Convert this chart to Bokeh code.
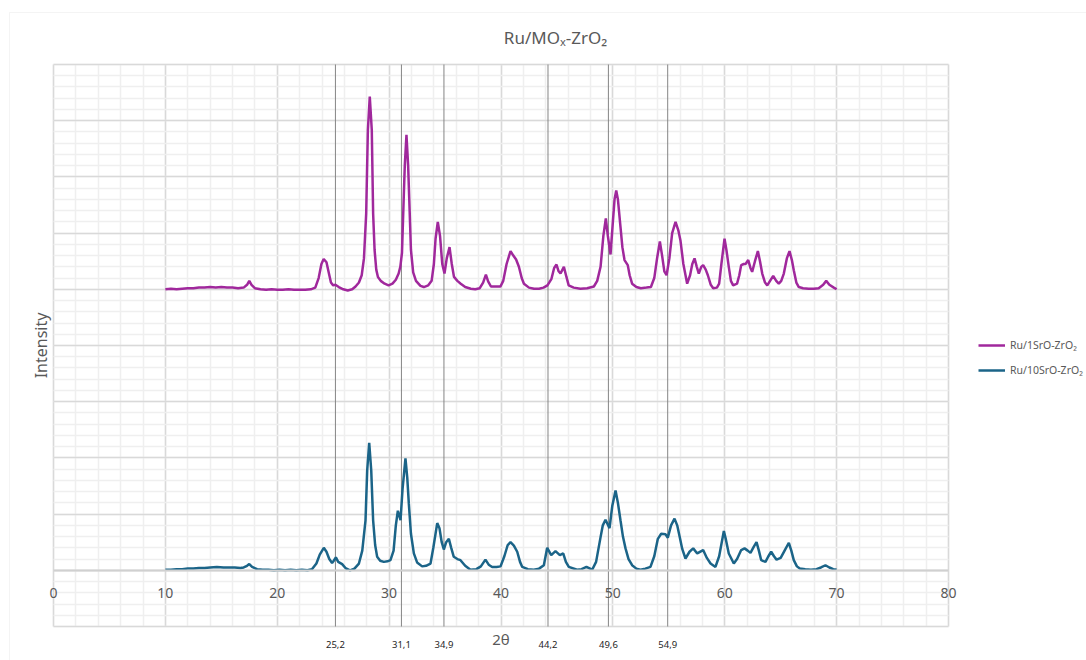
import math
from bokeh.plotting import figure
from bokeh.models import (Range1d, FixedTicker, LinearAxis, Legend, LegendItem,
                          Label, BoxAnnotation)
from bokeh.embed import file_html
from bokeh.resources import INLINE

# ---- data -------------------------------------------------------------
# Ru/1SrO-ZrO2 (plotted with a vertical offset)
tt_1sr = [10.0, 10.5, 11.0, 11.5, 12.0, 12.5, 13.0, 13.5, 14.0, 14.5, 15.0, 15.5, 16.0,
          16.5, 17.0, 17.3, 17.5, 17.7, 18.0, 18.5, 19.0, 19.5, 20.0, 20.5, 21.0, 21.5,
          22.0, 22.5, 23.0, 23.4, 23.7, 23.95, 24.15, 24.4, 24.6, 24.8, 25.0, 25.2, 25.5,
          25.9, 26.3, 26.7, 27.0, 27.3, 27.55, 27.75, 27.95, 28.1, 28.27, 28.45, 28.57,
          28.7, 28.85, 29.0, 29.25, 29.6, 29.95, 30.3, 30.6, 30.85, 31.0, 31.15, 31.3,
          31.4, 31.55, 31.7, 31.8, 31.95, 32.15, 32.4, 32.8, 33.1, 33.5, 33.8, 34.0,
          34.15, 34.35, 34.55, 34.75, 34.95, 35.15, 35.4, 35.6, 35.8, 36.1, 36.4, 36.8,
          37.3, 37.7, 38.1, 38.4, 38.65, 38.85, 39.1, 39.5, 39.95, 40.2, 40.5, 40.85,
          41.1, 41.35, 41.6, 41.85, 42.05, 42.5, 42.95, 43.4, 43.8, 44.15, 44.5, 44.75,
          44.96, 45.15, 45.32, 45.62, 45.85, 46.05, 46.5, 47.1, 47.7, 48.3, 48.6, 48.9,
          49.15, 49.37, 49.55, 49.79, 50.0, 50.15, 50.3, 50.45, 50.68, 50.85, 51.04,
          51.33, 51.5, 51.72, 52.1, 52.5, 53.0, 53.4, 53.7, 53.95, 54.2, 54.4, 54.6,
          54.8, 55.05, 55.3, 55.6, 55.85, 56.04, 56.3, 56.64, 56.9, 57.1, 57.3, 57.5,
          57.68, 57.9, 58.07, 58.3, 58.49, 58.75, 58.97, 59.3, 59.5, 59.7, 59.98, 60.15,
          60.36, 60.55, 60.75, 61.1, 61.3, 61.47, 61.7, 61.86, 62.1, 62.3, 62.45, 62.7,
          62.96, 63.15, 63.35, 63.6, 63.8, 64.05, 64.33, 64.6, 64.83, 65.05, 65.28,
          65.55, 65.79, 66.0, 66.17, 66.4, 66.62, 67.0, 67.5, 67.96, 68.4, 68.8, 69.07,
          69.35, 69.75, 70.0]
int_1sr = [5.00, 5.01, 5.00, 5.01, 5.02, 5.02, 5.03, 5.03, 5.04, 5.03, 5.04, 5.03, 5.03,
           5.02, 5.03, 5.08, 5.15, 5.08, 5.02, 5.00, 4.99, 5.00, 4.99, 4.99, 5.00, 4.99,
           4.99, 4.99, 5.00, 5.03, 5.20, 5.45, 5.54, 5.48, 5.30, 5.12, 5.07, 5.08, 5.04,
           5.00, 4.98, 5.00, 5.05, 5.12, 5.25, 5.55, 6.35, 7.83, 8.43, 7.83, 6.35,
           5.70, 5.35, 5.22, 5.15, 5.10, 5.07, 5.10, 5.17, 5.28, 5.40, 5.65, 6.60,
           7.20, 7.75, 7.20, 6.60, 5.70, 5.30, 5.15, 5.06, 5.04, 5.07, 5.15, 5.45,
           5.90, 6.20, 5.95, 5.45, 5.28, 5.55, 5.75, 5.45, 5.22, 5.15, 5.10, 5.04,
           5.01, 5.00, 5.02, 5.12, 5.26, 5.14, 5.05, 5.05, 5.05, 5.15, 5.45, 5.68,
           5.60, 5.53, 5.40, 5.20, 5.10, 5.03, 5.01, 5.01, 5.03, 5.07, 5.18, 5.38,
           5.44, 5.32, 5.28, 5.40, 5.22, 5.07, 5.03, 5.01, 5.02, 5.05, 5.15, 5.40,
           5.95, 6.26, 5.95, 5.62, 6.20, 6.60, 6.76, 6.60, 6.11, 5.75, 5.52,
           5.43, 5.25, 5.10, 5.04, 5.02, 5.03, 5.04, 5.20, 5.55, 5.85, 5.60, 5.32,
           5.25, 5.55, 6.00, 6.20, 6.05, 5.87, 5.45, 5.10, 5.25, 5.45, 5.55, 5.40,
           5.28, 5.40, 5.43, 5.35, 5.25, 5.08, 5.02, 5.03, 5.10, 5.45, 5.90, 5.70,
           5.40, 5.15, 5.07, 5.10, 5.25, 5.43, 5.45, 5.45, 5.52, 5.38, 5.31, 5.50,
           5.68, 5.50, 5.28, 5.12, 5.07, 5.15, 5.24, 5.15, 5.10, 5.15, 5.28,
           5.55, 5.68, 5.52, 5.34, 5.12, 5.04, 5.02, 5.01, 5.01, 5.02, 5.08, 5.15,
           5.08, 5.03, 5.00]

# Ru/10SrO-ZrO2
tt_10sr = [10.0, 10.5, 11.0, 11.5, 12.0, 12.5, 13.0, 13.5, 14.0, 14.6, 15.2, 15.8, 16.2,
           16.7, 17.0, 17.3, 17.5, 17.75, 18.2, 18.7, 19.2, 19.7, 20.2, 20.7, 21.2, 21.7,
           22.2, 22.7, 23.1, 23.5, 23.8, 24.16, 24.4, 24.65, 24.9, 25.05, 25.24, 25.45,
           25.8, 26.1, 26.5, 26.9, 27.3, 27.6, 27.89, 28.04, 28.22, 28.4, 28.57, 28.75,
           28.93, 29.2, 29.53, 29.85, 30.12, 30.4, 30.6, 30.78, 31.02, 31.2, 31.46, 31.62,
           31.76, 31.95, 32.21, 32.5, 32.95, 33.3, 33.7, 33.95, 34.3, 34.5, 34.7, 34.89,
           35.1, 35.34, 35.55, 35.78, 36.1, 36.38, 36.8, 37.27, 37.8, 38.2, 38.61, 38.9,
           39.21, 39.6, 39.96, 40.3, 40.6, 40.85, 41.15, 41.45, 41.7, 41.9, 42.4, 42.93,
           43.4, 43.83, 44.13, 44.49, 44.87, 45.26, 45.56, 45.8, 46.06, 46.8, 47.2, 47.64,
           48.15, 48.5, 48.9, 49.1, 49.34, 49.7, 49.95, 50.24, 50.45, 50.68, 50.9, 51.13,
           51.4, 51.72, 52.1, 52.47, 52.9, 53.36, 53.7, 54.02, 54.32, 54.7, 54.91, 55.2,
           55.51, 55.75, 55.98, 56.2, 56.49, 56.85, 57.18, 57.54, 58.07, 58.4, 58.73,
           59.17, 59.5, 59.92, 60.1, 60.36, 60.81, 61.1, 61.47, 61.77, 62.05, 62.3, 62.6,
           62.84, 63.05, 63.26, 63.64, 63.9, 64.15, 64.4, 64.63, 65.0, 65.35, 65.73, 65.95,
           66.17, 66.45, 66.71, 67.2, 67.7, 68.2, 68.6, 69.0, 69.35, 69.7, 70.0]
int_10sr = [0.01, 0.01, 0.02, 0.02, 0.03, 0.03, 0.04, 0.04, 0.05, 0.06, 0.05, 0.05, 0.05,
            0.04, 0.05, 0.08, 0.11, 0.06, 0.02, 0.01, 0.01, 0.00, 0.01, 0.00, 0.01, 0.00,
            0.01, 0.00, 0.02, 0.12, 0.28, 0.40, 0.33, 0.20, 0.13, 0.17, 0.23, 0.15,
            0.11, 0.04, 0.00, 0.03, 0.12, 0.35, 0.89, 1.78, 2.27, 1.78, 0.89, 0.45,
            0.24, 0.17, 0.15, 0.16, 0.18, 0.35, 0.80, 1.06, 0.89, 1.45, 1.99, 1.65,
            1.19, 0.65, 0.30, 0.14, 0.07, 0.08, 0.12, 0.40, 0.84, 0.75, 0.50, 0.37,
            0.50, 0.56, 0.40, 0.24, 0.20, 0.18, 0.08, 0.01, 0.02, 0.07, 0.19, 0.10,
            0.06, 0.06, 0.07, 0.25, 0.45, 0.50, 0.44, 0.33, 0.15, 0.06, 0.02, 0.01,
            0.03, 0.09, 0.40, 0.27, 0.34, 0.27, 0.30, 0.15, 0.06, 0.01, 0.02, 0.06,
            0.01, 0.15, 0.59, 0.80, 0.90, 0.75, 1.15, 1.42, 1.20, 0.89, 0.60, 0.39,
            0.20, 0.09, 0.03, 0.01, 0.03, 0.06, 0.25, 0.56, 0.65, 0.64, 0.58, 0.80,
            0.92, 0.80, 0.59, 0.38, 0.21, 0.33, 0.39, 0.30, 0.36, 0.22, 0.12,
            0.06, 0.25, 0.70, 0.55, 0.30, 0.12, 0.20, 0.36, 0.39, 0.35, 0.31, 0.42,
            0.50, 0.35, 0.18, 0.15, 0.25, 0.33, 0.25, 0.19, 0.22, 0.35, 0.49, 0.35,
            0.18, 0.07, 0.03, 0.02, 0.01, 0.02, 0.05, 0.09, 0.05, 0.02, 0.01]

# reference reflections and their labels
ref_angles = [25.2, 31.1, 34.9, 44.2, 49.6, 54.9]
ref_labels = ["25,2", "31,1", "34,9", "44,2", "49,6", "54,9"]

x_ticks = [0, 10, 20, 30, 40, 50, 60, 70, 80]
x_tick_labels = ["0", "10", "20", "30", "40", "50", "60", "70", "80"]

series_names = ["Ru/1SrO-ZrO₂", "Ru/10SrO-ZrO₂"]
series_colors = ["#a0289c", "#1b6488"]

TEXT_GREY = "#595959"
FONT = "Noto Sans"

# ---- geometry: the plot area (0..80, -1..9) sits inside a larger canvas ----
W, H = 1086, 660
AREA_L, AREA_R, AREA_T, AREA_B = 53, 948, 64, 626
X0, X1, Y0, Y1 = 0, 80, -1, 9
sx = (AREA_R - AREA_L) / (X1 - X0)
sy = (AREA_B - AREA_T) / (Y1 - Y0)
x_range = Range1d(X0 - AREA_L / sx, X1 + (W - AREA_R) / sx)
y_range = Range1d(Y0 - (H - AREA_B) / sy, Y1 + AREA_T / sy)

p = figure(width=W, height=H, x_range=x_range, y_range=y_range,
           output_backend="svg", toolbar_location=None,
           min_border=0, outline_line_color=None,
           background_fill_color="white", border_fill_color="white")

# outer chart border
p.add_layout(BoxAnnotation(left=9, right=W + 20, top=H - 12, bottom=-20,
                           left_units="screen", right_units="screen",
                           top_units="screen", bottom_units="screen",
                           fill_color=None, line_color="#d9d9d9", line_width=1))

# grid restricted to the plot area
p.xgrid.ticker = FixedTicker(ticks=x_ticks, minor_ticks=list(range(0, 81, 2)))
p.xgrid.bounds = (X0, X1)
p.xgrid.cross_bounds = (Y0, Y1)
p.xgrid.grid_line_color = "#d9d9d9"
p.xgrid.grid_line_width = 1.5
p.xgrid.minor_grid_line_color = "#efefef"
p.xgrid.minor_grid_line_width = 1.5

y_major = list(range(-1, 10))
y_minor = [round(-1 + 0.2 * i, 2) for i in range(51)]
p.ygrid.ticker = FixedTicker(ticks=y_major, minor_ticks=y_minor)
p.ygrid.bounds = (Y0, Y1)
p.ygrid.cross_bounds = (X0, X1)
p.ygrid.grid_line_color = "#d9d9d9"
p.ygrid.grid_line_width = 1.5
p.ygrid.minor_grid_line_color = "#efefef"
p.ygrid.minor_grid_line_width = 1.5

# main x axis crossing at intensity 0
xa = p.xaxis[0]
xa.fixed_location = 0
xa.bounds = (X0, X1)
xa.ticker = FixedTicker(ticks=x_ticks)
xa.major_label_overrides = dict(zip(x_ticks, x_tick_labels))
xa.axis_line_color = "#d0d0d0"
xa.axis_line_width = 2
xa.major_tick_line_color = None
xa.minor_tick_line_color = None
xa.major_label_standoff = 12
xa.major_label_text_font = FONT
xa.major_label_text_font_size = "14px"
xa.major_label_text_color = TEXT_GREY

# the y axis shows nothing; its title is a rotated label centred on the plot area
p.yaxis.visible = False

# reference reflection lines and their positions under the plot area
p.segment(x0=ref_angles, y0=[Y0] * len(ref_angles), x1=ref_angles,
          y1=[Y1] * len(ref_angles), line_color="#858585", line_width=1)

ref_axis = LinearAxis(ticker=FixedTicker(ticks=ref_angles), fixed_location=Y0,
                      major_label_overrides=dict(zip(ref_angles, ref_labels)))
ref_axis.axis_line_color = None
ref_axis.major_tick_line_color = None
ref_axis.minor_tick_line_color = None
ref_axis.major_label_standoff = 8
ref_axis.major_label_text_font = FONT
ref_axis.major_label_text_font_size = "9.5px"
ref_axis.major_label_text_color = "#262626"
p.add_layout(ref_axis, "below")

# chart title, axis titles
p.add_layout(Label(x=555, y=H - 37, x_units="screen", y_units="screen",
                   text="Ru/MOₓ-ZrO₂", text_align="center", text_baseline="middle",
                   text_font=FONT, text_font_size="17px", text_color=TEXT_GREY))
p.add_layout(Label(x=(AREA_L + AREA_R) / 2, y=H - 638, x_units="screen",
                   y_units="screen", text="2θ", text_align="center",
                   text_baseline="middle", text_font=FONT, text_font_size="15px",
                   text_color=TEXT_GREY))
p.add_layout(Label(x=40, y=H - (AREA_T + AREA_B) / 2, x_units="screen",
                   y_units="screen", angle=math.pi / 2, text="Intensity",
                   text_align="center", text_baseline="middle", text_font=FONT,
                   text_font_size="16px", text_color=TEXT_GREY))

# spectra
r1 = p.line(tt_1sr, int_1sr, line_color=series_colors[0], line_width=2.5)
r2 = p.line(tt_10sr, int_10sr, line_color=series_colors[1], line_width=2.5)

legend = Legend(items=[LegendItem(label=series_names[0], renderers=[r1]),
                       LegendItem(label=series_names[1], renderers=[r2])],
                location=(978, H - 380))
legend.padding = 0
legend.margin = 0
legend.spacing = 5
legend.border_line_color = None
legend.background_fill_alpha = 0
legend.glyph_width = 27
legend.label_standoff = 5
legend.label_text_font = FONT
legend.label_text_font_size = "10.5px"
legend.label_text_color = TEXT_GREY
p.add_layout(legend, "center")

open("out.html", "w").write(file_html(p, INLINE))
